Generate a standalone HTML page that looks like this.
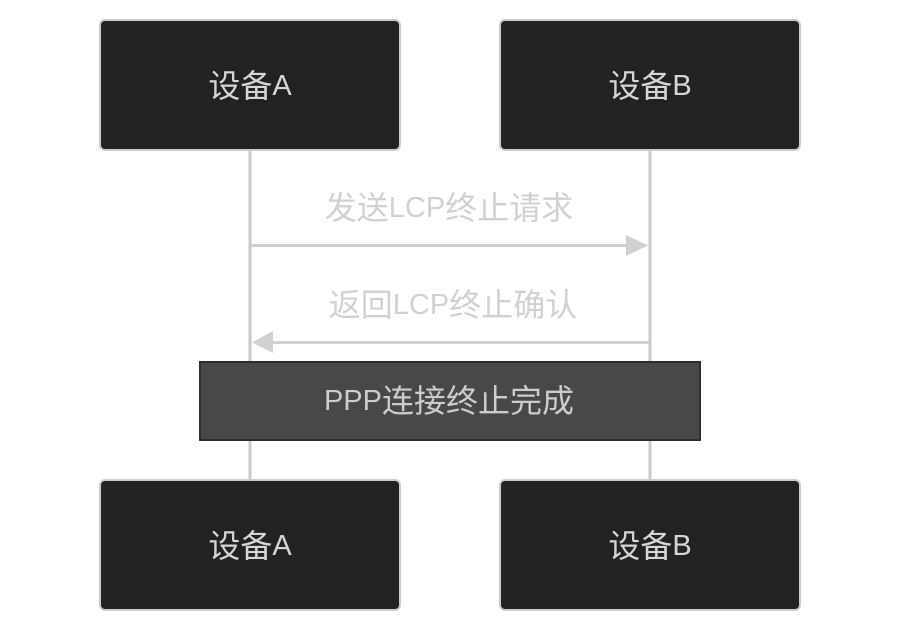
<!DOCTYPE html>
<html>
<head>
<meta charset="utf-8">
<style>
html,body{margin:0;padding:0;background:#ffffff;}
body{width:900px;height:632px;overflow:hidden;}
svg{display:block;}
text{font-family:"Liberation Sans","Noto Sans CJK SC",sans-serif;font-size:32px;fill:#cccccc;}
.l{font-size:29px;}
</style>
</head>
<body>
<svg width="900" height="632" viewBox="0 0 900 632" xmlns="http://www.w3.org/2000/svg">
  <!-- lifelines -->
  <line x1="250" y1="150" x2="250" y2="480" stroke="#cacaca" stroke-width="3"/>
  <line x1="650" y1="150" x2="650" y2="480" stroke="#cacaca" stroke-width="3"/>

  <!-- top actors -->
  <rect x="100" y="20" width="300" height="130" rx="5" ry="5" fill="#212221" stroke="#cccccc" stroke-width="2"/>
  <text x="250" y="86" text-anchor="middle" dominant-baseline="central" style="fill:#d6d6d6">设备<tspan class="l">A</tspan></text>
  <rect x="500" y="20" width="300" height="130" rx="5" ry="5" fill="#212221" stroke="#cccccc" stroke-width="2"/>
  <text x="650" y="86" text-anchor="middle" dominant-baseline="central" style="fill:#d6d6d6">设备<tspan class="l">B</tspan></text>

  <!-- message 1 -->
  <text x="449" y="208" text-anchor="middle" dominant-baseline="central" style="fill:#d0d0d0">发送<tspan class="l">LCP</tspan>终止请求</text>
  <line x1="251" y1="245.5" x2="630" y2="245.5" stroke="#d0d0d0" stroke-width="3"/>
  <polygon points="626,235 648,245.5 626,256" fill="#d0d0d0"/>

  <!-- message 2 -->
  <text x="453" y="305" text-anchor="middle" dominant-baseline="central" style="fill:#d0d0d0">返回<tspan class="l">LCP</tspan>终止确认</text>
  <line x1="270" y1="342.5" x2="649" y2="342.5" stroke="#d0d0d0" stroke-width="3"/>
  <polygon points="273,331 252,342.5 273,353" fill="#d0d0d0"/>

  <!-- note -->
  <rect x="200" y="362" width="500" height="78" fill="#474848" stroke="#2c2c2c" stroke-width="2"/>
  <text x="449" y="401" text-anchor="middle" dominant-baseline="central" style="fill:#cccccc"><tspan class="l">PPP</tspan>连接终止完成</text>

  <!-- bottom actors -->
  <rect x="100" y="480" width="300" height="130" rx="5" ry="5" fill="#212221" stroke="#cccccc" stroke-width="2"/>
  <text x="250" y="546" text-anchor="middle" dominant-baseline="central" style="fill:#d6d6d6">设备<tspan class="l">A</tspan></text>
  <rect x="500" y="480" width="300" height="130" rx="5" ry="5" fill="#212221" stroke="#cccccc" stroke-width="2"/>
  <text x="650" y="546" text-anchor="middle" dominant-baseline="central" style="fill:#d6d6d6">设备<tspan class="l">B</tspan></text>
</svg>
</body>
</html>
